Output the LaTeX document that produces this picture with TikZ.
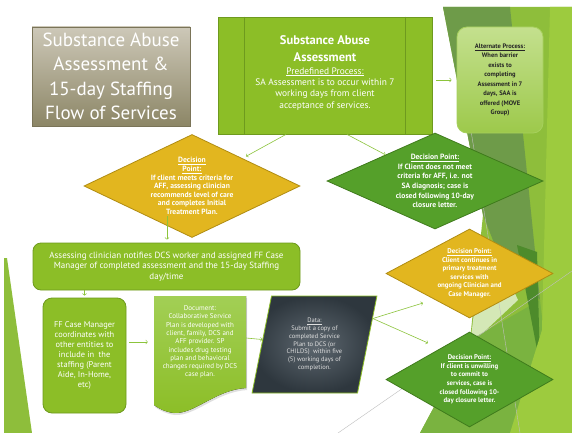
\documentclass[tikz,border=0pt]{standalone}
\usepackage{fontspec}
\setmainfont{PT Sans}
\usetikzlibrary{positioning,shapes.geometric,arrows,shadows}
\definecolor{lime}{HTML}{8CBE27}
\definecolor{limeline}{HTML}{6E9A1E}
\definecolor{gold}{HTML}{E2B61F}
\definecolor{goldline}{HTML}{B08C12}
\definecolor{leaf}{HTML}{55A02A}
\definecolor{leafline}{HTML}{3F7B1C}
\definecolor{arrowgreen}{HTML}{8CC43C}
\definecolor{titletop}{HTML}{CDC8B8}
\definecolor{titlebottom}{HTML}{8C8666}
\definecolor{titleline}{HTML}{7A7458}
\definecolor{alttop}{HTML}{C4E08E}
\definecolor{altbottom}{HTML}{9DC94B}
\definecolor{altline}{HTML}{A6D05C}
\definecolor{slateinner}{HTML}{5E6870}
\definecolor{slateouter}{HTML}{2E373E}
\definecolor{doctop}{HTML}{A2CF55}
\definecolor{docbottom}{HTML}{8CBE27}
\definecolor{decolime}{HTML}{8EBE3B}
\definecolor{decoolive}{HTML}{6E9B49}
\definecolor{decopale}{HTML}{D4E8B6}
\definecolor{decomid}{HTML}{7AB340}
\definecolor{decodark}{HTML}{4D8B2B}
\definecolor{decobright}{HTML}{9DCB3E}

\begin{document}
\begin{tikzpicture}
[x=1pt, y=-1pt,
% The link style is used for the thin green arrows between the steps
link/.style={->, draw=arrowgreen, line width=0.6pt},
% The box style is used for the rounded green process boxes
box/.style={rectangle, rounded corners=9pt, draw=limeline, line width=0.8pt, fill=lime, text=white, align=center, inner sep=0pt},
% The decision style is used for the diamonds
decision/.style={diamond, inner sep=0pt, align=center, text=white, line width=0.8pt},
golddecision/.style={decision, draw=goldline, fill=gold},
leafdecision/.style={decision, draw=leafline, fill=leaf},
decoline/.style={draw=black!25, line width=0.4pt}
]
% Background and decoration
\fill[white] (0,0) rectangle (572,433);
\useasboundingbox (0,0) rectangle (572,433);
\fill[decolime] (443,7) -- (572,7) -- (572,433) -- (420,433) -- (470,340) -- (483,215) -- cycle;
\fill[decoolive] (443,7) -- (510,7) -- (540,300) -- (500,258) -- (483,215) -- cycle;
\fill[decopale] (490,240) -- (518,300) -- (470,345) -- (478,280) -- cycle;
\fill[decomid] (420,433) -- (470,340) -- (540,300) -- (555,433) -- cycle;
\fill[decodark] (517,245) -- (537,252) -- (540,365) -- cycle;
\fill[decobright] (550,7) -- (572,7) -- (572,433) -- (510,433) -- (542,330) -- cycle;
\fill[decolime] (4,258) -- (7,258) -- (32,433) -- (4,433) -- cycle;
\draw[decoline] (466,100) -- (520,433);
\draw[decoline] (338,433) -- (572,271);

% Title
\node[rectangle, draw=titleline, top color=titletop, bottom color=titlebottom, minimum width=158pt, minimum height=99pt, text=white, align=center, font=\fontsize{19}{24.5}\selectfont] (title) at (111,76.5) {Substance Abuse\\Assessment \&\\15-day Staffing\\Flow of Services};

% Predefined process
\node[rectangle, draw=limeline, fill=lime, line width=0.8pt, minimum width=214pt, minimum height=117pt, text=white, align=center, font=\fontsize{9.4}{11.3}\selectfont] (pre) at (325,75.5)
{\fontsize{12.5}{15}\selectfont\bfseries Substance Abuse\\[6pt]\fontsize{12.5}{15}\selectfont\bfseries Assessment\\[1pt]\underline{Predefined Process:}\\SA Assessment is to occur within 7\\working days from client\\acceptance of services.\\[-4pt]\mbox{}};
\draw[limeline, line width=0.8pt] ([xshift=27pt]pre.north west) -- ([xshift=27pt]pre.south west);
\draw[limeline, line width=0.8pt] ([xshift=-27pt]pre.north east) -- ([xshift=-27pt]pre.south east);

% Alternate process
\node[rectangle, rounded corners=10pt, draw=altline, line width=0.8pt, top color=alttop, bottom color=altbottom, minimum width=86pt, minimum height=106pt, text=black!85, align=center, font=\fontsize{6.5}{9.5}\selectfont\bfseries] (alt) at (500,80)
{\underline{Alternate Process:}\\When barrier\\exists to\\completing\\Assessment in 7\\days, SAA is\\offered (MOVE\\Group)};

% Decisions after the assessment
\node[golddecision, aspect=2.1, minimum width=216pt, minimum height=103pt, font=\fontsize{7.6}{8.6}\selectfont\bfseries] (d1) at (192,186)
{\underline{Decision}\\\underline{Point:}\\If client meets criteria for\\AFF, assessing clinician\\recommends level of care\\and completes Initial\\Treatment Plan.};
\node[leafdecision, aspect=2.25, minimum width=216pt, minimum height=96pt, font=\fontsize{7.6}{9.6}\selectfont\bfseries] (d2) at (435,181)
{\underline{Decision Point:}\\If Client does not meet\\criteria for AFF, i.e. not\\SA diagnosis; case is\\closed following 10-day\\closure letter.};

% Staffing steps
\node[box, minimum width=267pt, minimum height=47pt, rounded corners=8pt, font=\fontsize{9}{10.5}\selectfont] (notify) at (166.5,266.5)
{Assessing clinician notifies DCS worker and assigned FF Case\\Manager of completed assessment and the 15-day Staffing\\day/time};
\node[box, minimum width=83pt, minimum height=115pt, font=\fontsize{8.4}{10}\selectfont] (ff) at (84.5,355.5)
{FF Case Manager\\coordinates with\\other entities to\\include in~ the\\staffing (Parent\\Aide, In-Home,\\etc)};

% Document
\fill[top color=doctop, bottom color=docbottom, drop shadow={opacity=0.25, shadow xshift=1pt, shadow yshift=-2pt}]
(154,296) -- (246,296) -- (246,388) .. controls (215,390) and (195,414) .. (174,413) .. controls (165,412) and (158,408) .. (154,405) -- cycle;
\node[rectangle, minimum width=92pt, minimum height=92pt, text=white, align=center, font=\fontsize{7}{8.3}\selectfont] (doc) at (200,342)
{Document:\\Collaborative Service\\Plan is developed with\\client, family, DCS and\\AFF provider. SP\\includes drug testing\\plan and behavioral\\changes required by DCS\\case plan.};

% Data
\node[trapezium, trapezium left angle=76.6, trapezium right angle=103.4, trapezium stretches=true, minimum width=125pt, minimum height=97pt, inner sep=0pt, draw=lime, line width=0.8pt, inner color=slateinner, outer color=slateouter, text=white!88!black, align=center, font=\fontsize{6.5}{7.8}\selectfont] (data) at (314.5,344.5)
{\underline{Data:}\\Submit a copy of\\completed Service\\Plan to DCS (or\\CHILDS)~ within five\\(5) working days of\\completion.};

% Final decisions
\node[golddecision, aspect=1.88, minimum width=167pt, minimum height=89pt, font=\fontsize{6.9}{8.5}\selectfont\bfseries] (d3) at (469.5,273.5)
{\underline{Decision Point:}\\Client continues in\\primary treatment\\services with\\ongoing Clinician and\\Case Manager.};
\node[leafdecision, aspect=1.76, minimum width=167pt, minimum height=95pt, font=\fontsize{6.8}{8.7}\selectfont\bfseries] (d4) at (469.5,379.5)
{\underline{Decision Point:}\\If client is unwilling\\to commit to\\services, case is\\closed following 10-\\day closure letter.};

% Connectors
\coordinate (preout) at (436,80);
\coordinate (d1out) at (167,216);
\coordinate (ffout) at (129,342);
\coordinate (tocontinue) at (423,303);
\coordinate (tounwilling) at (428,343);
\draw[link, shorten >=5pt] (preout) -- (preout -| alt.west);
\draw[link, shorten >=4pt] ([xshift=-39pt]pre.south) -- (d1);
\draw[link] ([xshift=22pt]pre.south) -- (d2);
\draw[link, shorten >=3pt] (d1out) -- (d1out |- notify.north);
\draw[link, shorten >=2pt] (notify.south -| ff.north) -- (ff.north);
\draw[link, shorten >=6pt] (ffout) -- (ffout -| doc.west);
\draw[link] ([yshift=4pt]doc.east) -- (data);
\draw[link] (data.24) -- (tocontinue);
\draw[link] (data.24) -- (tounwilling);
\end{tikzpicture}
\end{document}
